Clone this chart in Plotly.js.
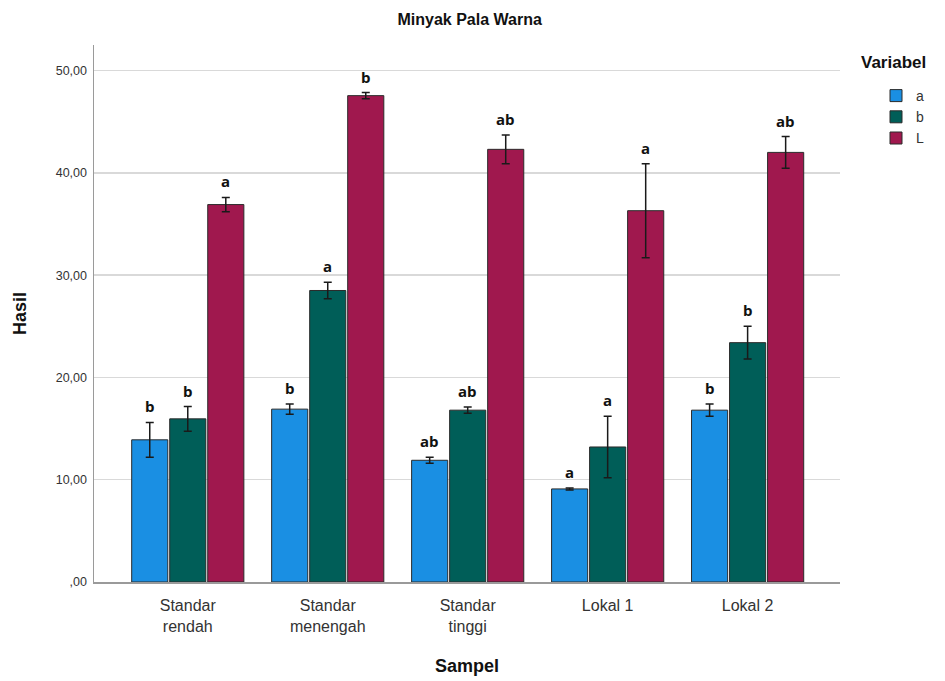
<!DOCTYPE html>
<html><head><meta charset="utf-8">
<script src="https://cdn.plot.ly/plotly-3.0.1.min.js"></script>
<style>html,body{margin:0;padding:0;background:#fff}#chart{width:945px;height:681px}</style>
</head><body><div id="chart"></div>
<script>
const categories = ["Standar<br>rendah", "Standar<br>menengah", "Standar<br>tinggi", "Lokal 1", "Lokal 2"];
const seriesNames = ["a", "b", "L"];
const valuesA = [13.9, 16.9, 11.9, 9.1, 16.8];
const errorsA = [1.7, 0.5, 0.3, 0.1, 0.6];
const valuesB = [15.95, 28.5, 16.8, 13.2, 23.4];
const errorsB = [1.2, 0.8, 0.3, 3.0, 1.6];
const valuesL = [36.9, 47.55, 42.3, 36.3, 42.0];
const errorsL = [0.7, 0.3, 1.4, 4.6, 1.55];
const lettersA = ["b", "b", "ab", "a", "b"];
const lettersB = ["b", "a", "ab", "a", "b"];
const lettersL = ["a", "b", "ab", "a", "ab"];
const yTickVals = [0, 10, 20, 30, 40, 50];
const yTickText = [",00", "10,00", "20,00", "30,00", "40,00", "50,00"];

const colors = ["#1a8fe3", "#005e58", "#a0184e"];
const vals = [valuesA, valuesB, valuesL];
const errs = [errorsA, errorsB, errorsL];
const lets = [lettersA, lettersB, lettersL];
const xIdx = categories.map((c, i) => i);

const bargap = 0.185;
const slot = (1 - bargap) / 3;

const traces = seriesNames.map((n, j) => ({
  type: "bar", name: n, x: xIdx, y: vals[j],
  marker: {color: colors[j], line: {color: "#2b2b2b", width: 1}},
  error_y: {type: "data", array: errs[j], visible: true, color: "#1a1a1a", thickness: 1.5, width: 4},
  hoverinfo: "none"
}));

const annotations = [];
seriesNames.forEach((n, j) => {
  xIdx.forEach(i => {
    annotations.push({
      x: i + (j - 1) * slot, y: vals[j][i] + errs[j][i], xref: "x", yref: "y",
      text: "<b>" + lets[j][i] + "</b>", showarrow: false, yanchor: "bottom", yshift: 4,
      font: {family: "Open Sans, Liberation Sans, sans-serif", size: 15, color: "#111"}
    });
  });
});
annotations.push({
  xref: "paper", yref: "paper", x: 1.025, xanchor: "left", y: 1 - (63 - 45) / 537, yanchor: "middle",
  text: "<b>Variabel</b>", showarrow: false, font: {size: 17, color: "#111"}
});

const layout = {
  width: 945, height: 681,
  margin: {l: 94, r: 105, t: 45, b: 99, autoexpand: false},
  paper_bgcolor: "#fff", plot_bgcolor: "#fff",
  font: {family: "Liberation Sans, Arial, sans-serif", color: "#333"},
  title: {text: "<b>Minyak Pala Warna</b>", x: 0.497, xanchor: "center", y: 0.972, yanchor: "middle",
          font: {size: 16, color: "#111"}},
  barmode: "group", bargap: bargap, bargroupgap: 0.05,
  xaxis: {
    tickvals: xIdx, ticktext: categories, range: [-0.67, 4.66],
    showgrid: false, zeroline: false, showline: true, linecolor: "#9a9a9a", linewidth: 1.5,
    ticks: "", tickfont: {size: 16, color: "#333"}, ticklabelstandoff: 8,
    title: {text: "<b>Sampel</b>", font: {size: 18, color: "#111"}, standoff: 26}
  },
  yaxis: {
    range: [0, 52.5], tickvals: yTickVals, ticktext: yTickText,
    showgrid: true, gridcolor: "#d9d9d9", gridwidth: 1.5, zeroline: false,
    showline: true, linecolor: "#9a9a9a", linewidth: 1.5,
    ticks: "", tickfont: {size: 12.5, color: "#333"}, ticklabelstandoff: 3,
    title: {text: "<b>Hasil</b>", font: {size: 18, color: "#111"}, standoff: 24}
  },
  legend: {
    x: (876 - 94) / 746, xanchor: "left", y: 1 - (80 - 45) / 537, yanchor: "top",
    font: {size: 14, color: "#333"}, itemwidth: 30, tracegroupgap: 0
  },
  annotations: annotations,
  showlegend: true
};

Plotly.newPlot("chart", traces, layout, {displayModeBar: false, staticPlot: true});
</script>
</body></html>
